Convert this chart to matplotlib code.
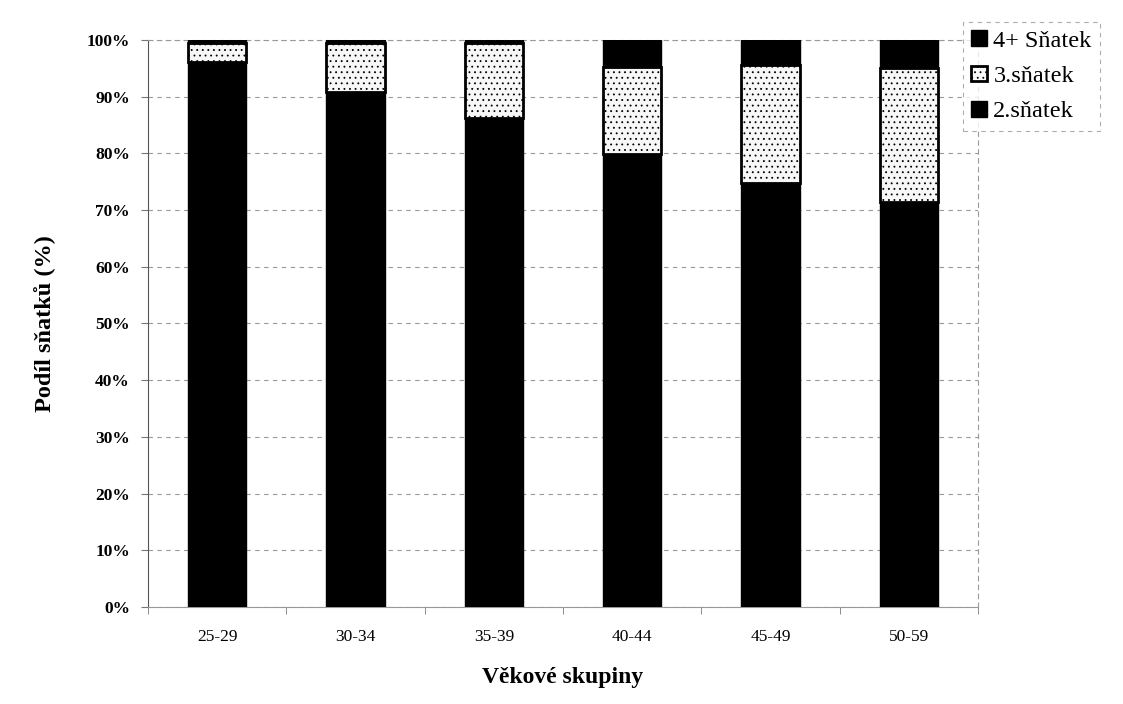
import matplotlib
matplotlib.use("Agg")
import matplotlib.pyplot as plt
from matplotlib.ticker import PercentFormatter

categories = ["25-29", "30-34", "35-39", "40-44", "45-49", "50-59"]
s2 = [96.1, 90.9, 86.2, 79.9, 74.8, 71.5]
s3 = [3.4, 8.6, 13.3, 15.4, 20.8, 23.6]
s4 = [0.5, 0.5, 0.5, 4.7, 4.4, 4.9]
labels = ["2.sňatek", "3.sňatek", "4+ Sňatek"]

plt.rcParams['font.family'] = ['Liberation Serif', 'DejaVu Serif']
plt.rcParams['hatch.color'] = '#b0b0b0'
plt.rcParams['hatch.linewidth'] = 0.6

fig = plt.figure(figsize=(11.23, 7.04), dpi=100)
ax = fig.add_axes([0.1318, 0.1378, 0.7391, 0.8054])

x = list(range(len(categories)))
w = 0.42
b1 = ax.bar(x, s2, width=w, color='black', edgecolor='black', linewidth=1, label=labels[0], zorder=3)
b2 = ax.bar(x, s3, width=w, bottom=s2, color='#f7f7f7', edgecolor='black', linewidth=2,
            hatch='...', label=labels[1], zorder=3)
bottom3 = [a + b for a, b in zip(s2, s3)]
b3 = ax.bar(x, s4, width=w, bottom=bottom3, color='black', edgecolor='black', linewidth=1, label=labels[2], zorder=3)

ax.set_xlim(-0.5, len(categories) - 0.5)
ax.set_ylim(0, 100)
ax.set_yticks(range(0, 101, 10))
ax.yaxis.set_major_formatter(PercentFormatter(decimals=0))
ax.set_xticks(x)
ax.set_xticklabels(categories, fontsize=12.5)
ax.set_xticks([i + 0.5 for i in range(-1, len(categories))], minor=True)
ax.tick_params(axis='x', which='major', length=0, pad=16)
ax.tick_params(axis='x', which='minor', length=5, direction='out', color='#777777')
ax.tick_params(axis='y', length=5, direction='out', color='#777777', labelsize=12.5, pad=8)
for t in ax.get_yticklabels():
    t.set_fontweight('bold')

ax.grid(axis='y', linestyle=(0, (4, 4)), color='#999999', linewidth=0.8, zorder=0)
for side in ['top', 'right']:
    ax.spines[side].set_linestyle((0, (4, 4)))
    ax.spines[side].set_color('#999999')
    ax.spines[side].set_linewidth(0.8)
ax.spines['left'].set_color('#555555')
ax.spines['bottom'].set_color('#999999')

ax.set_ylabel("Podíl sňatků (%)", fontsize=17.5, fontweight='bold', labelpad=22)
ax.set_xlabel("Věkové skupiny", fontsize=17, fontweight='bold', labelpad=16)

handles = [b3, b2, b1]
leg = fig.legend(handles, [labels[2], labels[1], labels[0]], loc='upper left',
                 bbox_to_anchor=(0.8575, 0.969), fontsize=17.5, frameon=True,
                 fancybox=False, handlelength=0.62, handleheight=0.62, handletextpad=0.28,
                 borderpad=0.35, borderaxespad=0, labelspacing=0.57)
fr = leg.get_frame()
fr.set_edgecolor('#999999')
fr.set_linestyle((0, (4, 4)))
fr.set_linewidth(0.8)

fig.savefig("out.png", dpi=100)
